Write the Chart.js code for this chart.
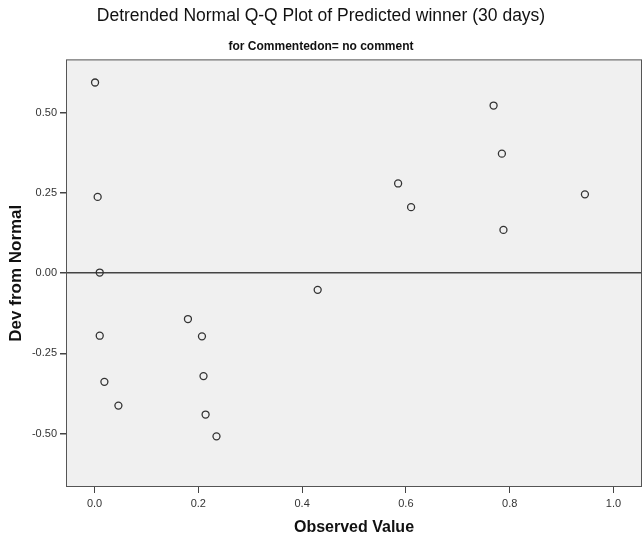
<!DOCTYPE html>
<html>
<head>
<meta charset="utf-8">
<script src="https://cdn.jsdelivr.net/npm/chart.js@4.4.1/dist/chart.umd.min.js"></script>
<style>
  html, body { margin: 0; padding: 0; background: #fff; }
  #wrap { width: 643px; height: 541px; }
</style>
</head>
<body>
<div id="wrap"><canvas id="qq"></canvas></div>
<script>
const observed = [0.001, 0.006, 0.010, 0.010, 0.019, 0.046, 0.180, 0.207, 0.210,
  0.214, 0.235, 0.430, 0.585, 0.610, 0.769, 0.785, 0.788, 0.945];
const devFromNormal = [0.595, 0.238, 0.002, -0.195, -0.339, -0.413, -0.143, -0.197, -0.321,
  -0.441, -0.509, -0.052, 0.280, 0.206, 0.523, 0.373, 0.135, 0.246];

const xTicks = [0.0, 0.2, 0.4, 0.6, 0.8, 1.0];
const yTicks = [-0.50, -0.25, 0.00, 0.25, 0.50];

const FONT = "'Liberation Sans', Arial, sans-serif";

const points = observed.map((x, i) => ({ x: x, y: devFromNormal[i] }));

// grey plot box with a frame around it
const plotBox = {
  id: "plotBox",
  beforeDraw(chart) {
    const { ctx, chartArea: a } = chart;
    ctx.save();
    ctx.fillStyle = "#f0f0f0";
    ctx.fillRect(a.left, a.top, a.right - a.left, a.bottom - a.top);
    ctx.restore();
  },
  afterDraw(chart) {
    const { ctx, chartArea: a } = chart;
    ctx.save();
    ctx.strokeStyle = "#555";
    ctx.lineWidth = 1;
    ctx.strokeRect(a.left + 0.5, a.top + 0.5, a.right - a.left - 1, a.bottom - a.top - 1);
    ctx.restore();
  },
};

new Chart(document.getElementById("qq"), {
  type: "scatter",
  data: {
    datasets: [
      {
        data: points,
        pointStyle: "circle",
        pointRadius: 3.5,
        pointBorderWidth: 1.3,
        pointBorderColor: "#333",
        pointBackgroundColor: "rgba(0,0,0,0)",
      },
    ],
  },
  plugins: [plotBox],
  options: {
    responsive: true,
    maintainAspectRatio: false,
    animation: false,
    layout: { autoPadding: false, padding: { left: 0, right: 1, top: 0, bottom: 0 } },
    plugins: {
      legend: { display: false },
      tooltip: { enabled: false },
      title: {
        display: true,
        text: "Detrended Normal Q-Q Plot of Predicted winner (30 days)",
        color: "#111",
        font: { family: FONT, size: 17.5, weight: "normal" },
        padding: { top: 6, bottom: 12 },
      },
      subtitle: {
        display: true,
        text: "for Commentedon= no comment",
        color: "#111",
        font: { family: FONT, size: 12, weight: "bold" },
        padding: { top: 0, bottom: 6 },
      },
    },
    scales: {
      x: {
        type: "linear",
        min: -0.055,
        max: 1.055,
        afterBuildTicks: (s) => { s.ticks = xTicks.map((v) => ({ value: v })); },
        afterFit: (s) => { s.height = 54; s.paddingLeft = 0; s.paddingRight = 0; },
        border: { display: false },
        grid: { drawOnChartArea: false, drawTicks: true, tickLength: 6, color: "#444" },
        ticks: {
          color: "#333",
          padding: 4,
          font: { family: FONT, size: 11 },
          callback: (v) => Number(v).toFixed(1),
        },
        title: {
          display: true,
          text: "Observed Value",
          color: "#111",
          font: { family: FONT, size: 16, weight: "bold" },
          padding: { top: 0, bottom: 4 },
        },
      },
      y: {
        type: "linear",
        min: -0.667,
        max: 0.667,
        afterBuildTicks: (s) => { s.ticks = yTicks.map((v) => ({ value: v })); },
        afterFit: (s) => { s.width = 66; },
        border: { display: false },
        grid: {
          drawOnChartArea: true,
          drawTicks: true,
          tickLength: 6,
          lineWidth: 1.5,
          tickColor: "#444",
          color: (c) => (c.tick && c.tick.value === 0 ? "#444" : "rgba(0,0,0,0)"),
        },
        ticks: {
          color: "#333",
          padding: 3,
          font: { family: FONT, size: 11 },
          callback: (v) => Number(v).toFixed(2),
        },
        title: {
          display: true,
          text: "Dev from Normal",
          color: "#111",
          font: { family: FONT, size: 17, weight: "bold" },
          padding: { top: 6, bottom: 0 },
        },
      },
    },
  },
});
</script>
</body>
</html>
